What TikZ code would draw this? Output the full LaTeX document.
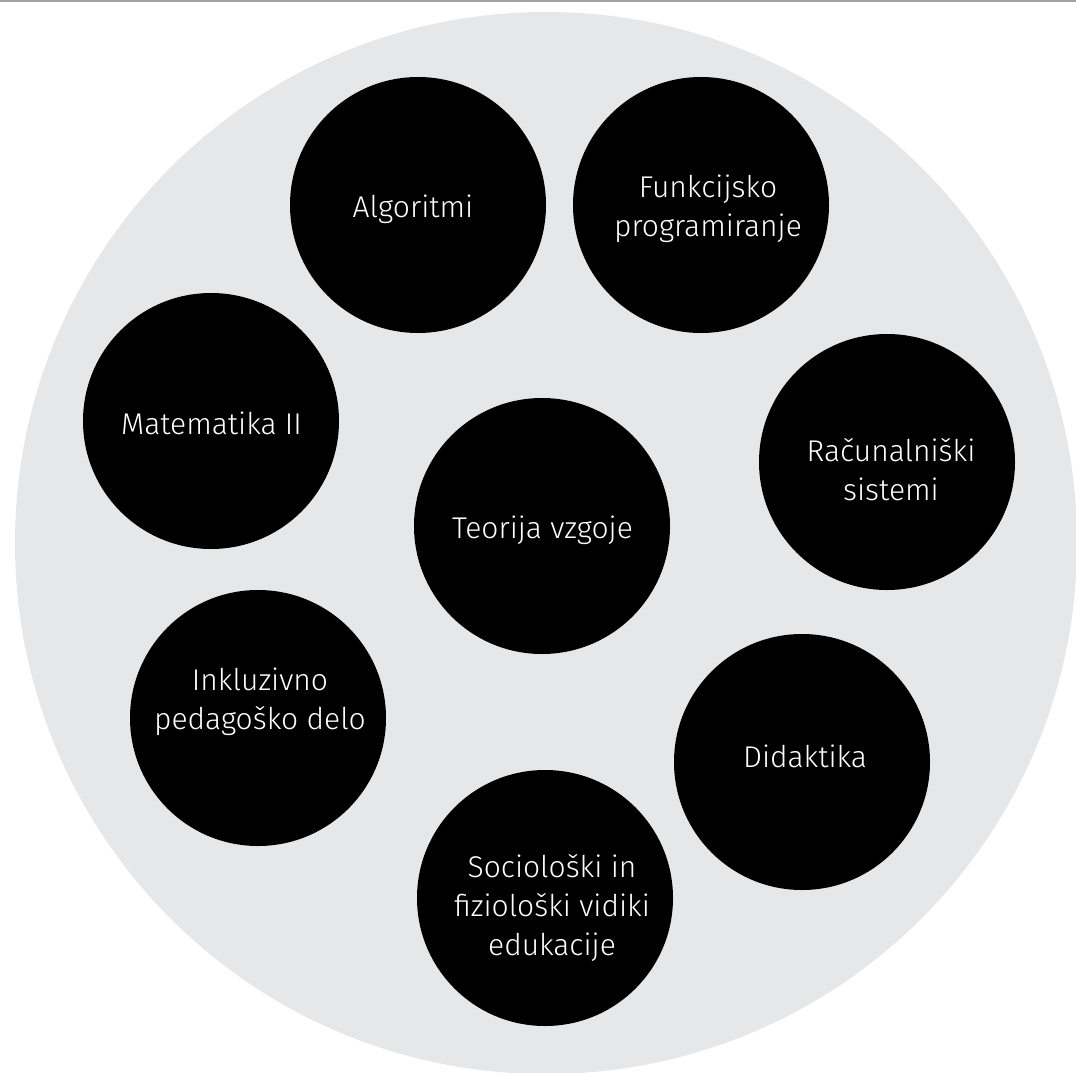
\documentclass[tikz,border=0pt]{standalone}
\usepackage{fontspec}
\setmainfont{Fira Sans}[UprightFont={* Light}]
\definecolor{bigdisc}{HTML}{E6E7E8}
\definecolor{topline}{HTML}{A3A3A3}
\begin{document}
\begin{tikzpicture}[x=1pt,y=-1pt,
  disc/.style={circle,fill=black,draw=none,minimum size=256pt,inner sep=0pt},
  lbl/.style={text=white,font=\fontsize{30}{39}\selectfont,align=center,anchor=base,inner sep=0pt}]
\useasboundingbox (0,0) rectangle (1076,1073);
\fill[white] (0,0) rectangle (1076,1073);
\node[circle,fill=bigdisc,minimum size=1062pt,inner sep=0pt] (big) at (546,543) {};
\draw[topline,line width=1.6pt] (0,0.8) -- (1076,0.8);
\node[disc] (alg) at (418,205) {};
\node[disc] (fun) at (701,205) {};
\node[disc] (mat) at (211,421) {};
\node[disc] (teo) at (542,526) {};
\node[disc] (rac) at (887,462) {};
\node[disc] (ink) at (258,718) {};
\node[disc] (did) at (802,762) {};
\node[disc] (soc) at (545,898) {};
\node[lbl] (talg) at (413,217) {Algoritmi};
\node[lbl] (tfun) at (708,236) {Funkcijsko\\programiranje};
\node[lbl] (tmat) at (211.5,434) {Matematika II};
\node[lbl] (tteo) at (542.5,538) {Teorija vzgoje};
\node[lbl] (trac) at (891,500) {Računalniški\\sistemi};
\node[lbl] (tink) at (260,729) {Inkluzivno\\pedagoško delo};
\node[lbl] (tdid) at (805,767) {Didaktika};
\node[lbl] (tsoc) at (552,955) {Sociološki in\\fiziološki vidiki\\edukacije};
\end{tikzpicture}
\end{document}
